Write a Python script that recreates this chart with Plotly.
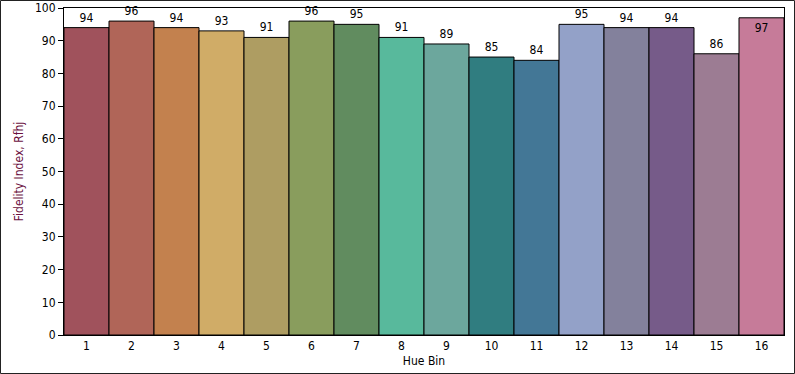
import plotly.graph_objects as go

hue_bins = [str(i) for i in range(1, 17)]
fidelity = [94, 96, 94, 93, 91, 96, 95, 91, 89, 85, 84, 95, 94, 94, 86, 97]
bar_colors = ["#A0525C", "#B06558", "#C3814E", "#D0AC67", "#AE9D62", "#899D5D",
              "#618C5F", "#58B99C", "#6CA79D", "#307D80", "#437796", "#93A1C8",
              "#83819C", "#765B89", "#9C7C93", "#C67B99"]
y_ticks = list(range(0, 101, 10))

FONT = "DejaVu Sans Condensed, Liberation Sans, sans-serif"

text_pos = ["inside" if v > 96 else "outside" for v in fidelity]

fig = go.Figure(go.Bar(
    x=hue_bins, y=fidelity,
    marker=dict(color=bar_colors, line=dict(color="black", width=1)),
    width=1,
    text=[str(v) for v in fidelity],
    textposition=text_pos,
    insidetextanchor="end",
    textfont=dict(family=FONT, size=12, color="black"),
    cliponaxis=False,
    showlegend=False,
))

fig.update_layout(
    width=795, height=374,
    margin=dict(l=64, r=11, t=8, b=39, autoexpand=False),
    paper_bgcolor="white", plot_bgcolor="white",
    font=dict(family=FONT, size=12, color="black"),
    bargap=0,
    xaxis=dict(
        type="category",
        showline=True, linecolor="black", linewidth=1, mirror=True,
        ticks="", showgrid=False, automargin=False,
        title=dict(text="Hue Bin", standoff=4, font=dict(size=12, color="black")),
        tickfont=dict(size=12),
    ),
    yaxis=dict(
        range=[0, 100], tickvals=y_ticks,
        showline=True, linecolor="black", linewidth=1, mirror=True,
        ticks="outside", ticklen=5, tickcolor="black", automargin=False,
        showgrid=False, zeroline=False,
        title=dict(text="Fidelity Index, Rfhj", standoff=8,
                   font=dict(size=12, color="#6B1040")),
        tickfont=dict(size=12),
    ),
    shapes=[dict(type="rect", xref="paper", yref="paper",
                 x0=-64/720 + 0.5/720, x1=1 + 11/720 - 0.5/720,
                 y0=-39/327 + 0.5/327, y1=1 + 8/327 - 0.5/327,
                 line=dict(color="#222222", width=1), layer="above")],
)

fig.write_html("out.html",
               config={"displayModeBar": False, "staticPlot": True},
               post_script="document.body.style.margin='0';document.body.style.overflow='hidden';")
